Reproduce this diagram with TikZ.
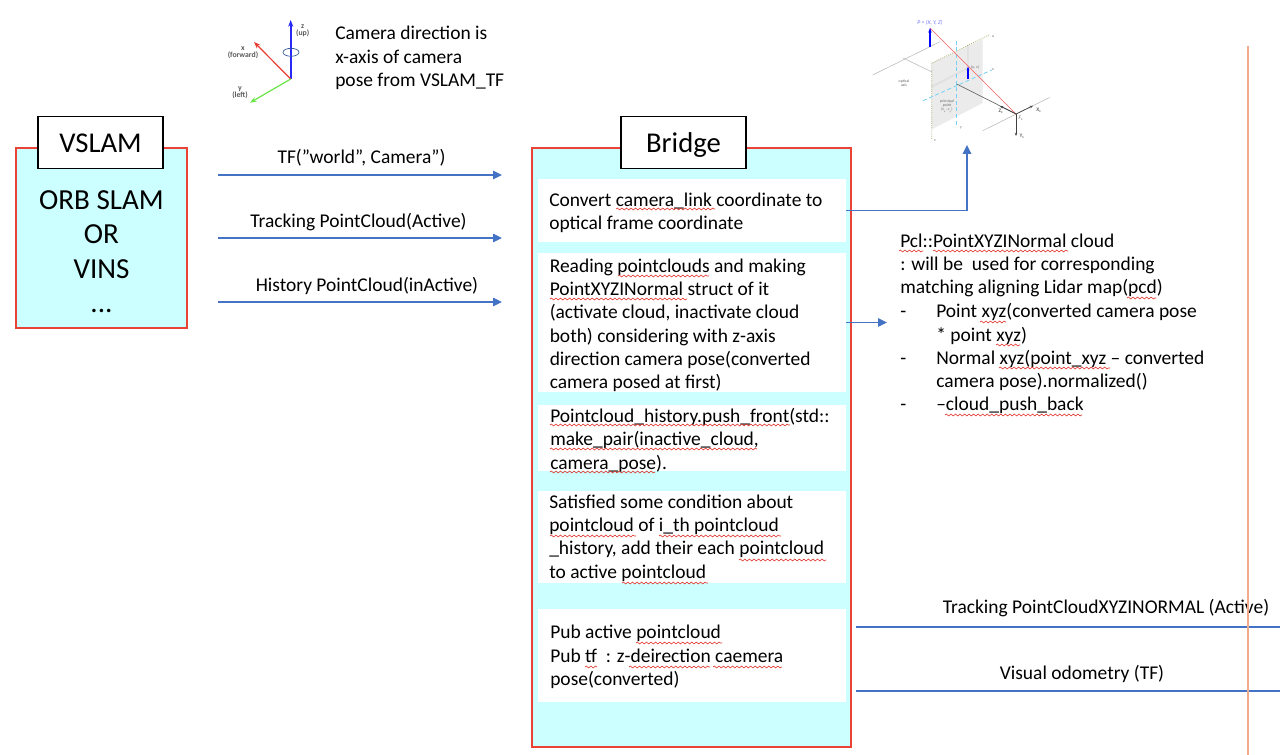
\documentclass[tikz,border=0pt]{standalone}
\usepackage{fontspec}
\setmainfont{Carlito}
\usepackage{xcolor}
\usetikzlibrary{arrows.meta, decorations.pathmorphing}
\definecolor{panelcyan}{RGB}{204, 255, 255}
\definecolor{panelred}{RGB}{234, 67, 53}
\definecolor{flowblue}{RGB}{68, 114, 196}
\definecolor{ruleorange}{RGB}{240, 170, 140}
\definecolor{squigred}{RGB}{226, 50, 40}
\definecolor{axisblue}{RGB}{40, 40, 250}
\definecolor{axisred}{RGB}{235, 60, 50}
\definecolor{axisgreen}{RGB}{105, 230, 70}
\newcommand{\squig}[3]{\draw[spell] (#1,#3) -- (#2,#3);}

\begin{document}
\begin{tikzpicture}[
  x=0.75pt, y=-0.75pt,
  panel/.style={draw=panelred, fill=panelcyan, line width=1.1pt},
  titlebox/.style={draw=black, fill=white, line width=0.8pt, font=\fontsize{21.5}{26}\selectfont, anchor=center, text height=15.5pt, text depth=0pt},
  whitebox/.style={fill=white, inner sep=0pt, minimum width=231pt},
  body/.style={font=\fontsize{14.6}{17.45}\selectfont, align=left, anchor=north west, inner sep=0pt, execute at begin node=\vphantom{(}},
  flow/.style={draw=flowblue, line width=0.9pt},
  flowarr/.style={flow, -{Triangle[length=6.75pt, width=6.4pt]}},
  lbl/.style={font=\fontsize{14.6}{17}\selectfont, inner sep=0pt},
  spell/.style={draw=squigred, line width=0.45pt, decorate, decoration={snake, segment length=3.4pt, amplitude=0.7pt}},
  iconlbl/.style={font=\fontsize{5.8}{5.4}\selectfont\bfseries, align=center, inner sep=0pt, text=black!65},
  camlbl/.style={font=\fontsize{2.9}{3.3}\selectfont, align=center, inner sep=0pt, text=black!60},
]
  \useasboundingbox (0,0) rectangle (1280,755);
  \fill[white] (0,0) rectangle (1280,755);

  % Axis icon
  \coordinate (orig) at (290.7,79);
  \draw[-{Stealth[length=5pt]}, axisblue, line width=1.3pt] (orig) -- (290.7,20);
  \draw[-{Stealth[length=5pt]}, axisred, line width=0.9pt] (orig) -- (254,42);
  \draw[-{Stealth[length=5pt]}, axisgreen, line width=0.9pt] (orig) -- (250,102.7);
  \draw[flowblue!80!black, line width=0.5pt] (291,52.3) ellipse (8 and 4);
  \node[iconlbl] (zlab) at (302.7,31) {z\\(up)};
  \node[iconlbl] (xlab) at (243,53) {x\\(forward)};
  \node[iconlbl] (ylab) at (240,93) {y\\(left)};
  \node[body] (camnote) at (335,26) {Camera direction is\\x-axis of camera\\pose from VSLAM\_TF};

  % Camera model
  \fill[black!8] (931.7,63.3) -- (982.7,39.3) -- (982.7,103) -- (931.7,129.3) -- cycle;
  \draw[black!5!white!85!gray, line width=1.5pt] (931.7,86.7) -- (968,68);
  \draw[black!5!white!85!gray, line width=1.5pt] (968,45) -- (968,66.7);
  \draw[black!28, line width=0.4pt] (872.7,75) -- (940,41.7);
  \draw[black!28, line width=0.4pt] (903,58) -- (932,72);
  \draw[black!28, line width=0.4pt] (982.7,130.7) -- (1050,97.3);
  \draw[olive!70!black!60, densely dotted, line width=0.6pt] (989,35) -- (931.7,63.3) -- (931.7,140);
  \draw[cyan!55, densely dashed, line width=0.6pt] (956.7,40.7) -- (956.7,126.7);
  \draw[cyan!55, densely dashed, line width=0.6pt] (923,100.7) -- (991.7,70);
  \draw[black!60, line width=0.5pt] (956.7,84) -- (1016,114);
  \draw[red!65, line width=0.5pt] (930,28) -- (1016,114);
  \draw[-{Stealth[length=3.5pt]}, blue, line width=1.4pt] (930,47) -- (930,28);
  \draw[-{Stealth[length=2.5pt]}, blue, line width=0.8pt] (968,79) -- (968,66.7);
  \draw[-{Stealth[length=2.5pt]}, black!75, line width=0.5pt] (1016,114) -- (1000,106);
  \draw[-{Stealth[length=2.5pt]}, black!75, line width=0.5pt] (1016,114) -- (1033,105.7);
  \draw[-{Stealth[length=2.5pt]}, black!75, line width=0.5pt] (1016,114) -- (1016,136);
  \node[camlbl, font=\fontsize{4.3}{5}\selectfont\itshape, text=blue!55] (plab) at (930,22.7) {P = (X, Y, Z)};
  \node[camlbl] (axislab) at (904,83) {optical\\axis};
  \node[camlbl] (pplab) at (947,106) {principal\\point\\(c\textsubscript{x}, c\textsubscript{y})};
  \node[camlbl, font=\fontsize{4}{5}\selectfont\bfseries] (zclab) at (1001,111) {Z\textsubscript{c}};
  \node[camlbl, font=\fontsize{4}{5}\selectfont\bfseries] (xclab) at (1039,110) {X\textsubscript{c}};
  \node[camlbl, font=\fontsize{4}{5}\selectfont\bfseries] (yclab) at (1022,136) {Y\textsubscript{c}};
  \node[camlbl, font=\fontsize{4}{5}\selectfont\itshape] (fclab) at (1021,118) {F\textsubscript{c}};
  \node[camlbl] (uvlab) at (975,67) {(u, v)};
  \node[camlbl] (ulab) at (993,37) {u};
  \node[camlbl] (vlab) at (935,141) {v};
  \node[camlbl] (ylab2) at (961,128) {y};
  \node[camlbl] (xlab2) at (993,70) {x};

  % VSLAM
  \draw[panel] (16,148) rectangle (187,328);
  \node[titlebox, minimum width=93.75pt, minimum height=39pt] (vslam) at (100.5,142.5) {VSLAM};
  \node[font=\fontsize{21.8}{25.9}\selectfont, align=center, inner sep=0pt] (vslamtxt) at (101.5,251.5) {ORB SLAM\\OR\\VINS\\...};

  % Bridge
  \draw[panel] (532,148) rectangle (851,747);
  \node[titlebox, minimum width=93.75pt, minimum height=39pt] (bridge) at (683.5,142.5) {Bridge};

  \node[whitebox, minimum height=47pt] (convert) at (691.5,210.5) {};
  \node[whitebox, minimum height=104pt] (reading) at (691.5,322.5) {};
  \node[whitebox, minimum height=49pt] (history) at (691.5,438) {};
  \node[whitebox, minimum height=69pt] (satisfied) at (691.5,537) {};
  \node[whitebox, minimum height=70pt] (pubbox) at (691.5,655.5) {};

  \node[body] (converttxt) at (549,192.5) {Convert camera\_link coordinate to\\optical frame coordinate};
  \node[body] (readingtxt) at (549.5,258.5) {Reading pointclouds and making\\PointXYZINormal struct of it\\(activate cloud, inactivate cloud\\both) considering with z-axis\\direction camera pose(converted\\camera posed at first)};
  \node[body] (historytxt) at (550,408) {Pointcloud\_history.push\_front(std::\\make\_pair(inactive\_cloud,\\camera\_pose).};
  \node[body] (satisfiedtxt) at (549,494.5) {Satisfied some condition about\\pointcloud of i\_th pointcloud\\\_history, add their each pointcloud\\to active pointcloud};
  \node[body] (pubtxt) at (550,625.2) {Pub active pointcloud\\Pub tf~~: z-deirection caemera\\pose(converted)};

  % Cloud notes
  \node[body] (cloudtxt) at (900,233.5) {Pcl::PointXYZINormal cloud\\: will be~~used for corresponding\\matching aligning Lidar map(pcd)};
  \foreach \nm/\y/\lab in {a/303.5/{Point xyz(converted camera pose\\* point xyz)}, b/350/{Normal xyz(point\_xyz -- converted\\camera pose).normalized()}, c/396.5/{--cloud\_push\_back}} {
    \node[body] (dash\nm) at (900,\y) {-};
    \node[body] (item\nm) at (936,\y) {\lab};
  }

  % Connectors
  \coordinate (tfs) at (218,175);      \coordinate (tfe) at (502,175);
  \coordinate (tracks) at (218,238);   \coordinate (tracke) at (502,238);
  \coordinate (hists) at (218,302);    \coordinate (histe) at (502,302);
  \coordinate (camtop) at (967,145);
  \coordinate (cloudin) at (887,322.5);
  \coordinate (outas) at (856,627);    \coordinate (outae) at (1280,627);
  \coordinate (outbs) at (856,691);    \coordinate (outbe) at (1280,691);
  \draw[flowarr] (tfs) -- (tfe);
  \draw[flowarr] (tracks) -- (tracke);
  \draw[flowarr] (hists) -- (histe);
  \draw[flowarr] (convert.east) -| (camtop);
  \draw[flowarr] (reading.east) -- (cloudin);
  \draw[flow] (outas) -- (outae);
  \draw[flow] (outbs) -- (outbe);

  % Connector labels
  \node[lbl] (tflab) at (361.5,157.5) {TF(”world”, Camera”)};
  \node[lbl] (tracklab) at (358.5,222.5) {Tracking PointCloud(Active)};
  \node[lbl] (histlab) at (367,285.5) {History PointCloud(inActive)};
  \node[lbl] (outalab) at (1106,608) {Tracking PointCloudXYZINORMAL (Active)};
  \node[lbl] (outblab) at (1082,674) {Visual odometry (TF)};

  % Right rule
  \coordinate (rulet) at (1248,46);
  \coordinate (ruleb) at (1248,755);
  \draw[ruleorange, line width=0.8pt] (rulet) -- (ruleb);

  % Spelling marks
  \squig{616}{715}{209}
  \squig{618}{709}{276}
  \squig{550}{687}{299}
  \squig{550}{790}{425}
  \squig{550}{757}{449}
  \squig{550}{655}{472}
  \squig{550}{636}{536}
  \squig{659}{781}{536}
  \squig{739}{826}{560}
  \squig{622}{708}{583}
  \squig{636}{722}{643}
  \squig{585}{597}{667}
  \squig{629}{710}{667}
  \squig{713}{782}{667}
  \squig{899}{923}{251}
  \squig{933}{1068}{251}
  \squig{1127}{1156}{298}
  \squig{980}{1006}{322}
  \squig{996}{1020}{345}
  \squig{999}{1110}{368}
  \squig{945}{1082}{415}
\end{tikzpicture}
\end{document}
